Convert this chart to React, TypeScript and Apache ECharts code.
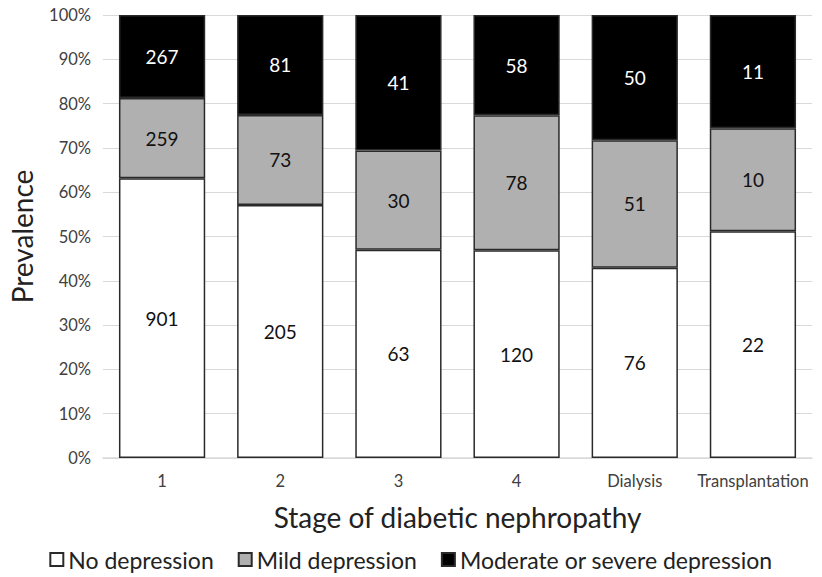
import React, { useEffect, useRef } from "react";
import * as echarts from "echarts";

const categories = ["1", "2", "3", "4", "Dialysis", "Transplantation"];
const noDepression = [901, 205, 63, 120, 76, 22];
const mildDepression = [259, 73, 30, 78, 51, 10];
const severeDepression = [267, 81, 41, 58, 50, 11];
const yTicks = [0, 10, 20, 30, 40, 50, 60, 70, 80, 90, 100];

const FONT = "Lato";

export default function App() {
  const ref = useRef<HTMLDivElement>(null);
  useEffect(() => {
    if (!ref.current) return;
    const chart = echarts.init(ref.current, undefined, { renderer: "svg" });
    const totals = categories.map((_, i) => noDepression[i] + mildDepression[i] + severeDepression[i]);
    const pct = (arr: number[]) => arr.map((v, i) => ({ value: (v / totals[i]) * 100, count: v }));
    const mk = (name: string, arr: number[], color: string, labelColor: string) => ({
      name,
      type: "bar",
      stack: "total",
      barWidth: "73%",
      data: pct(arr),
      itemStyle: { color, borderColor: "#2a2a2a", borderWidth: 1.5 },
      label: {
        show: true,
        position: "inside",
        color: labelColor,
        fontFamily: FONT,
        fontSize: 19,
        formatter: (p: any) => String(p.data.count),
      },
    });
    chart.setOption({
      animation: false,
      textStyle: { fontFamily: FONT },
      grid: { left: 103, right: 10, top: 15, bottom: 119, containLabel: false },
      xAxis: {
        type: "category",
        data: categories,
        axisLine: { lineStyle: { color: "#d9d9d9", width: 1.5 } },
        axisTick: { show: false },
        axisLabel: {
          interval: 0,
          color: "#404040",
          fontFamily: FONT,
          fontSize: 16.5,
          margin: 14,
        },
        name: "Stage of diabetic nephropathy",
        nameLocation: "middle",
        nameGap: 45,
        nameTextStyle: { fontSize: 28, color: "#222", fontFamily: FONT },
      },
      yAxis: {
        type: "value",
        min: 0,
        max: 100,
        interval: 10,
        axisLine: { show: false },
        axisTick: { show: false },
        splitLine: { lineStyle: { color: "#d9d9d9", width: 1 } },
        axisLabel: {
          color: "#404040",
          fontFamily: FONT,
          fontSize: 16.5,
          margin: 12,
          formatter: (v: number) => (yTicks.includes(v) ? `${v}%` : ""),
        },
        name: "Prevalence",
        nameLocation: "middle",
        nameGap: 67,
        nameTextStyle: { fontSize: 28, color: "#222", fontFamily: FONT },
      },
      legend: {
        top: 548,
        left: "center",
        padding: 0,
        icon: "rect",
        itemWidth: 13,
        itemHeight: 13,
        itemGap: 24,
        textStyle: { fontSize: 23, color: "#222", fontFamily: FONT },
        data: ["No depression", "Mild depression", "Moderate or severe depression"],
      },
      series: [
        mk("No depression", noDepression, "#ffffff", "#111"),
        mk("Mild depression", mildDepression, "#b0b0b0", "#111"),
        mk("Moderate or severe depression", severeDepression, "#000000", "#ffffff"),
      ],
    });
    return () => chart.dispose();
  }, []);
  return (
    <div
      ref={ref}
      style={{ position: "absolute", left: 0, top: 0, width: 822, height: 577 }}
    />
  );
}
